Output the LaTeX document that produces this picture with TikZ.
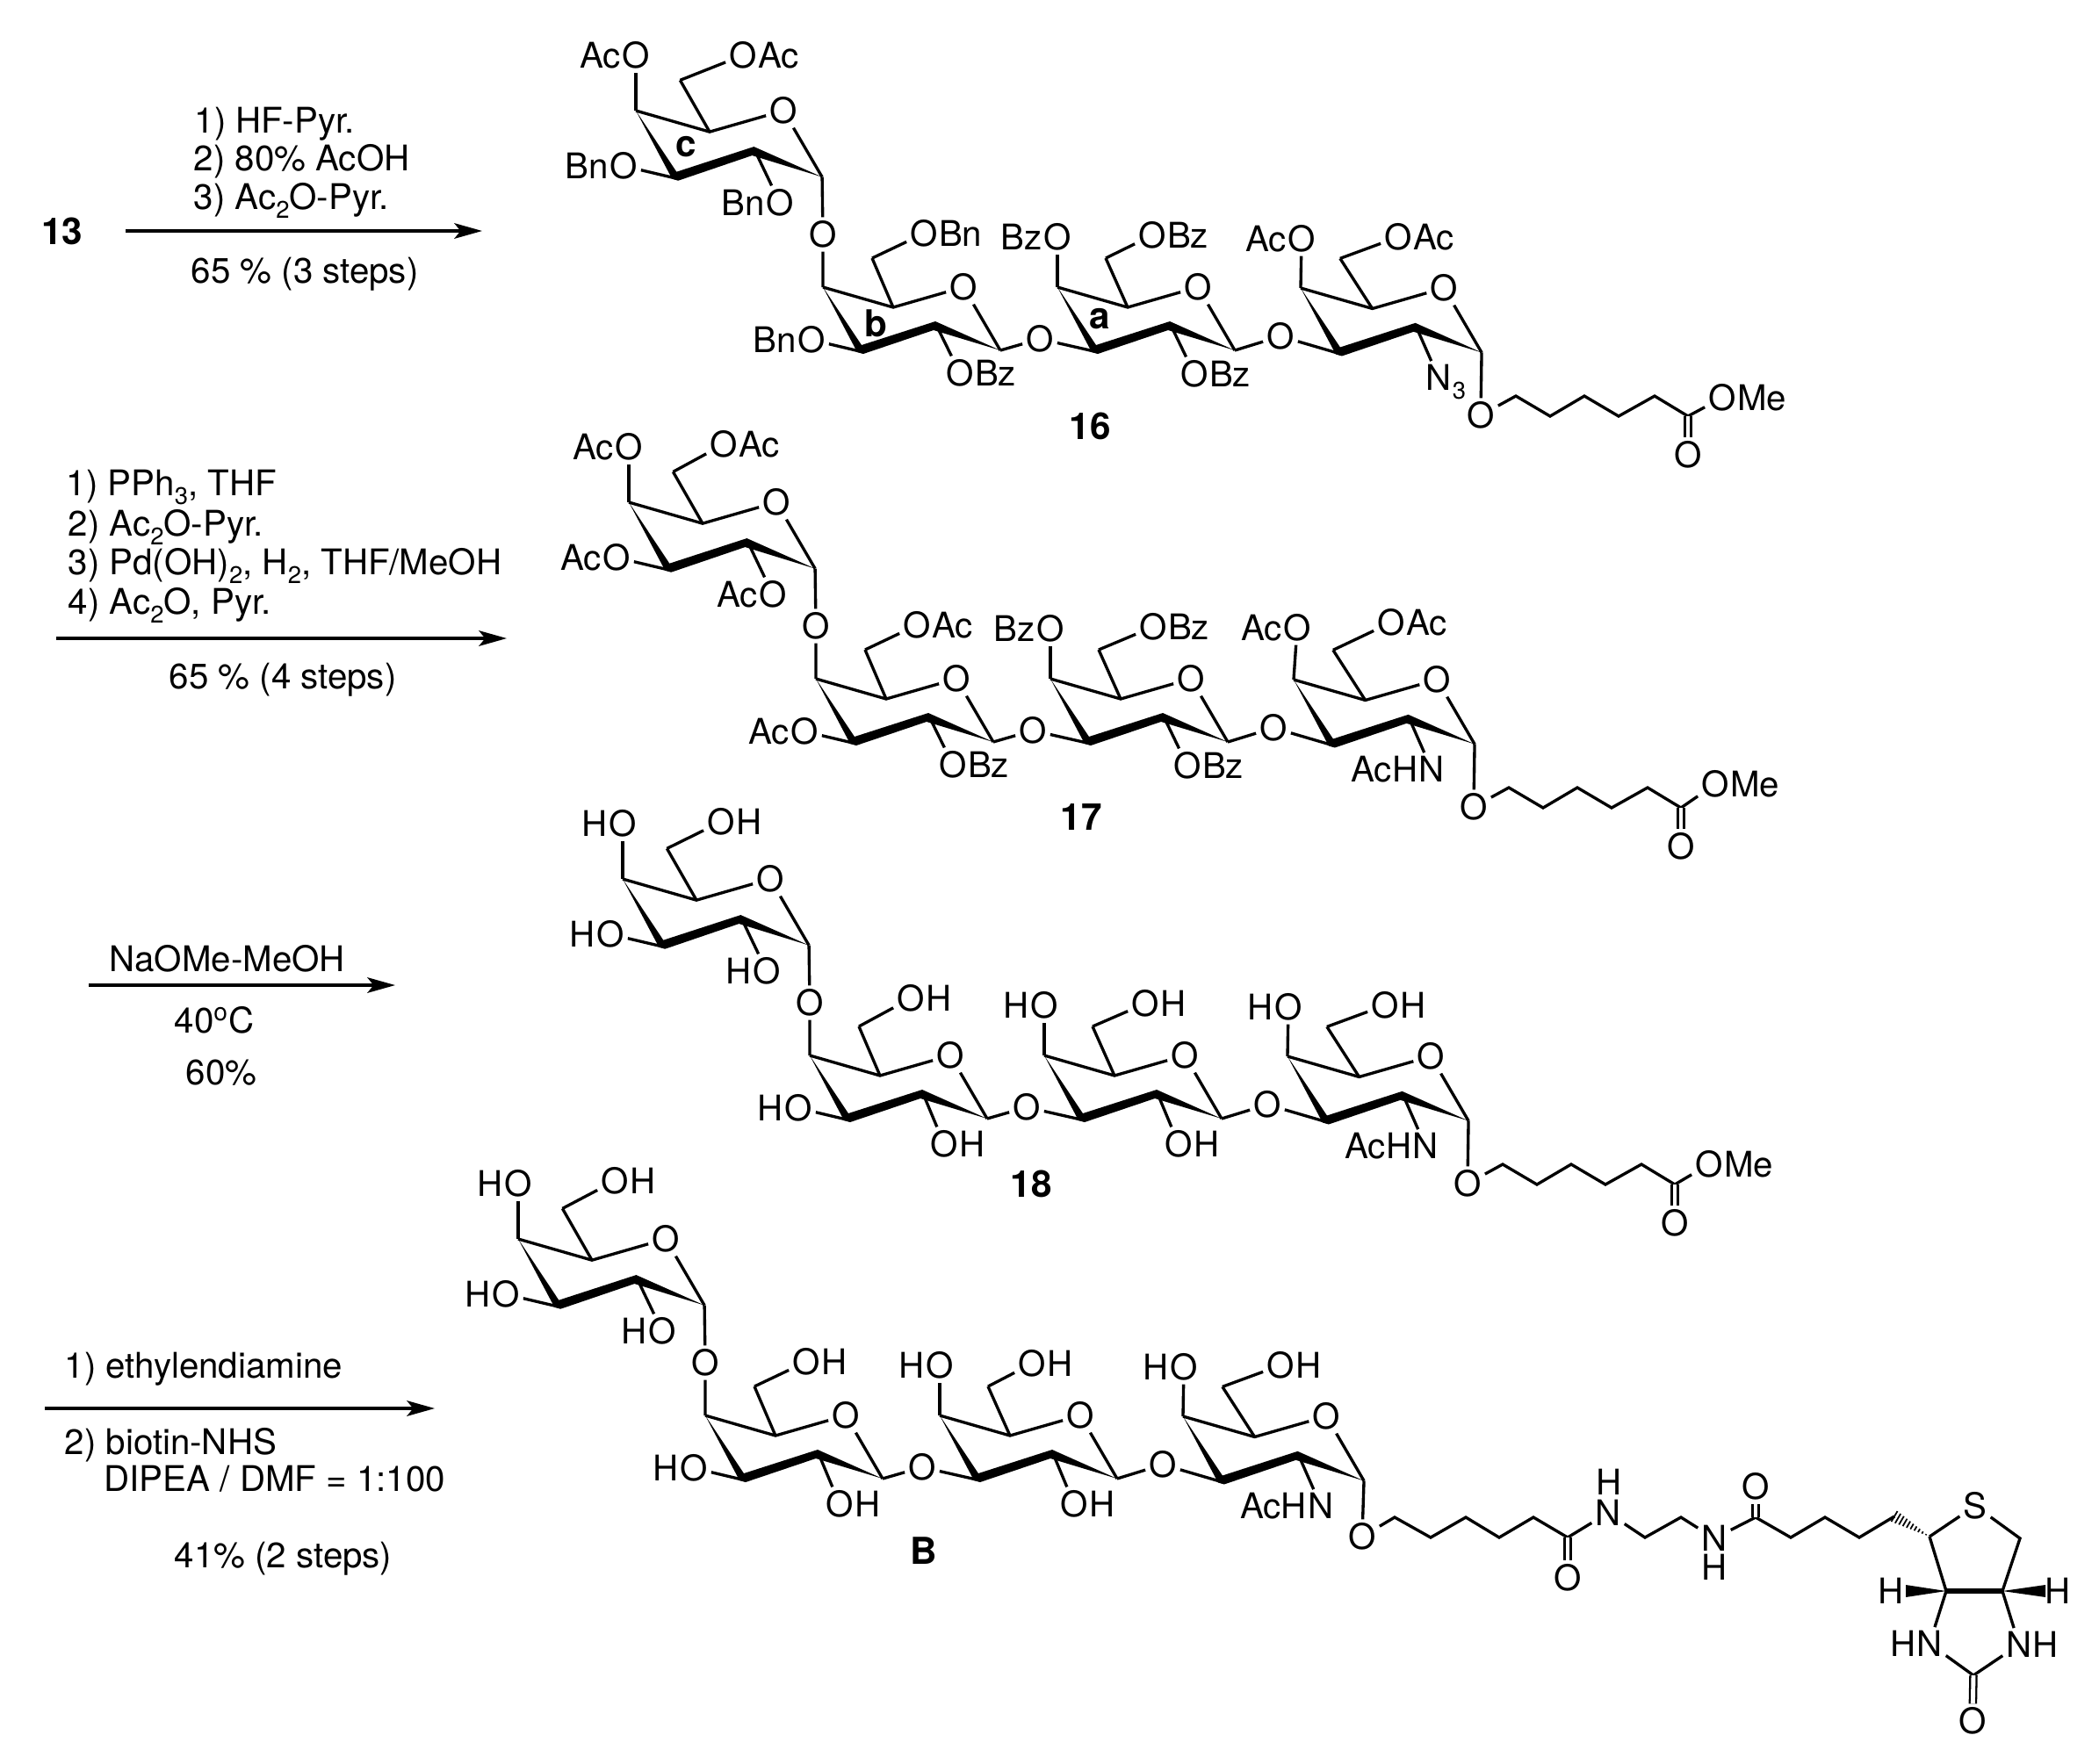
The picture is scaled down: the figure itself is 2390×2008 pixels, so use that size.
\documentclass[tikz,border=0pt]{standalone}
\usepackage{fontspec}
\setmainfont{TeX Gyre Heros}
\usetikzlibrary{arrows.meta,calc,positioning}
\tikzset{
  bond/.style={line width=0.95pt},
  dbl/.style={double,double distance=1.4pt,line width=0.65pt},
  rxn/.style={line width=0.95pt,-{Stealth[length=9pt,width=5pt,inset=2pt]}},
  atom/.style={inner sep=1pt},
  atompre/.style={inner sep=0pt,anchor=base east},
  atompost/.style={inner sep=0pt,anchor=base west},
  txt/.style={inner sep=0pt,anchor=base west},
  cmpd/.style={inner sep=0pt,font=\fontsize{12}{14}\selectfont\bfseries}
}
\newcommand{\lowidx}[1]{\raisebox{-0.25em}{\fontsize{7.8}{8}\selectfont #1}}
% one ring: name, position of C4, scale, x of C6
\newcommand{\sugar}[4]{
  \begin{scope}[shift={(#2)},scale=#3]
    \coordinate (#14) at (0,0);
    \coordinate (#15) at (80,23);
    \node[atom] (#1O) at (160,0) {O};
    \coordinate (#11) at (202,72);
    \coordinate (#12) at (128,41);
    \coordinate (#13) at (46,74);
    \coordinate (#16) at (#4,-33);
  \end{scope}
  \fill (#14) -- ([shift={(-7,0)}]#13) -- ([shift={(0,2)}]#13) -- ([shift={(-2,8)}]#12) -- (#11)
    -- ([shift={(0,-2)}]#12) -- ([shift={(-2,-8)}]#13) -- cycle;
  \draw[bond] (#14) -- (#15) -- (#1O) -- (#11);
  \draw[bond] (#15) -- (#16);
}
\newcommand{\preatom}[3]{
  \node[atom] (#1) at (p#1) {#3};
  \node[atompre] (#1t) at ([xshift=1pt]#1.base west) {#2};
}
\newcommand{\postatom}[3]{
  \node[atom] (#1) at (p#1) {#2};
  \node[atompost] (#1t) at ([xshift=-1pt]#1.base east) {#3};
}
\newcommand{\plainatom}[2]{\node[atom] (#1) at (p#1) {#2};}
% the four rings and where their substituents sit
\newcommand{\tetrarings}{
  \sugar{c}{724,126}{1.05}{48}
  \sugar{b}{937,327}{1}{56}
  \sugar{a}{1204,327}{1}{55}
  \sugar{d}{1481,328}{1.02}{44}
  \coordinate (poc4) at (724,63);
  \coordinate (poc6) at (846,63);
  \coordinate (poc3) at (710,189);
  \coordinate (poc2) at (888,231);
  \coordinate (pocb) at (937,267);
  \coordinate (pob6) at (1052,266);
  \coordinate (pob3) at (924,387);
  \coordinate (pob2) at (1093,425);
  \coordinate (poba) at (1184,386);
  \coordinate (poa4) at (1204,270);
  \coordinate (poa6) at (1312,268);
  \coordinate (poa2) at (1360,426);
  \coordinate (poad) at (1458,383);
  \coordinate (pod4) at (1482,272);
  \coordinate (pod6) at (1592,270);
  \coordinate (pnd2) at (1638,430);
  \coordinate (pod1) at (1686,473);
  \plainatom{ocb}{O}
  \plainatom{oba}{O}
  \plainatom{oad}{O}
}
\newcommand{\tetrabonds}{
  \draw[bond] (c4) -- (oc4);
  \draw[bond] (c6) -- (oc6);
  \draw[bond] (c3) -- (oc3);
  \draw[bond] (c2) -- (oc2);
  \draw[bond] (c1) -- (ocb) -- (b4);
  \draw[bond] (b6) -- (ob6);
  \draw[bond] (b3) -- (ob3);
  \draw[bond] (b2) -- (ob2);
  \draw[bond] (b1) -- (oba) -- (a3);
  \draw[bond] (a4) -- (oa4);
  \draw[bond] (a6) -- (oa6);
  \draw[bond] (a2) -- (oa2);
  \draw[bond] (a1) -- (oad) -- (d3);
  \draw[bond] (d4) -- (od4);
  \draw[bond] (d6) -- (od6);
  \draw[bond] (d2) -- (nd2);
  \draw[bond] (d1) -- (od1);
}
% methyl ester tail, #1 = height of its O
\newcommand{\estertail}[1]{
  \coordinate (k1) at (1726,451);
  \coordinate (k2) at (1765,474);
  \coordinate (k3) at (1804,451);
  \coordinate (k4) at (1843,474);
  \coordinate (k5) at (1884,451);
  \coordinate (k6) at (1922,474);
  \coordinate (pome) at (1961,#1);
  \coordinate (poko) at (1922,518);
  \postatom{ome}{O}{Me}
  \plainatom{oko}{O}
  \draw[bond] (od1) -- (k1) -- (k2) -- (k3) -- (k4) -- (k5) -- (k6) -- (ome);
  \draw[dbl] (k6) -- (oko);
}
\newcommand{\hydroxyls}{
  \coordinate (pob2) at (1090,428);
  \coordinate (poa2) at (1357,428);
  \preatom{oc4}{H}{O}
  \postatom{oc6}{O}{H}
  \preatom{oc3}{H}{O}
  \preatom{oc2}{H}{O}
  \postatom{ob6}{O}{H}
  \preatom{ob3}{H}{O}
  \postatom{ob2}{O}{H}
  \preatom{oa4}{H}{O}
  \postatom{oa6}{O}{H}
  \postatom{oa2}{O}{H}
  \preatom{od4}{H}{O}
  \postatom{od6}{O}{H}
  \preatom{nd2}{AcH}{N}
  \plainatom{od1}{O}
}
\begin{document}
\begin{tikzpicture}[x=0.01cm,y=-0.01cm,font=\fontsize{11.45}{14}\selectfont]
  \useasboundingbox (0,0) rectangle (2390,2008);

  % compound 16
  \begin{scope}
    \tetrarings
    \preatom{oc4}{Ac}{O}
    \postatom{oc6}{O}{Ac}
    \preatom{oc3}{Bn}{O}
    \preatom{oc2}{Bn}{O}
    \postatom{ob6}{O}{Bn}
    \preatom{ob3}{Bn}{O}
    \postatom{ob2}{O}{Bz}
    \preatom{oa4}{Bz}{O}
    \postatom{oa6}{O}{Bz}
    \postatom{oa2}{O}{Bz}
    \preatom{od4}{Ac}{O}
    \postatom{od6}{O}{Ac}
    \postatom{nd2}{N}{\lowidx{3}}
    \plainatom{od1}{O}
    \tetrabonds
    \estertail{453}
    \node[cmpd] (ringc) at (781,167) {c};
    \node[cmpd] (ringb) at (997,368) {b};
    \node[cmpd] (ringa) at (1252,363) {a};
    \node[cmpd] (lab16) at (1241,485) {16};
  \end{scope}

  % compound 17
  \begin{scope}[shift={(-8,446)}]
    \tetrarings
    \coordinate (poc6) at (832,60);
    \coordinate (poa6) at (1321,268);
    \coordinate (pod4) at (1485,269);
    \coordinate (pod6) at (1592,263);
    \preatom{oc4}{Ac}{O}
    \postatom{oc6}{O}{Ac}
    \preatom{oc3}{Ac}{O}
    \preatom{oc2}{Ac}{O}
    \postatom{ob6}{O}{Ac}
    \preatom{ob3}{Ac}{O}
    \postatom{ob2}{O}{Bz}
    \preatom{oa4}{Bz}{O}
    \postatom{oa6}{O}{Bz}
    \postatom{oa2}{O}{Bz}
    \preatom{od4}{Ac}{O}
    \postatom{od6}{O}{Ac}
    \preatom{nd2}{AcH}{N}
    \plainatom{od1}{O}
    \tetrabonds
    \estertail{447}
    \node[cmpd] (lab17) at (1239,485) {17};
  \end{scope}

  % compound 18
  \begin{scope}[shift={(-15,875)}]
    \tetrarings
    \coordinate (poc6) at (836,61);
    \coordinate (pob6) at (1052,262);
    \coordinate (poa6) at (1319,268);
    \hydroxyls
    \tetrabonds
    \estertail{451}
    \node[cmpd] (lab18) at (1189,473) {18};
  \end{scope}

  % compound B
  \begin{scope}[shift={(-134,1285)}]
    \tetrarings
    \coordinate (poc6) at (834,60);
    \coordinate (poa6) at (1309,268);
    \coordinate (pod1) at (1685,465);
    \hydroxyls
    \tetrabonds
    \node[cmpd] (labB) at (1186,481) {B};
  \end{scope}

  % linker and biotin of B
  \coordinate (m1) at (1588,1728);
  \coordinate (m2) at (1629,1751);
  \coordinate (m3) at (1669,1728);
  \coordinate (m4) at (1707,1751);
  \coordinate (m5) at (1746,1728);
  \coordinate (m6) at (1785,1751);
  \coordinate (m7) at (1873,1751);
  \coordinate (m8) at (1914,1728);
  \coordinate (m9) at (1999,1728);
  \coordinate (m10) at (2039,1751);
  \coordinate (m11) at (2078,1728);
  \coordinate (m12) at (2117,1751);
  \coordinate (m13) at (2157,1727);
  \coordinate (m14) at (2197,1750);
  \coordinate (m15) at (2300,1752);
  \coordinate (m16) at (2280,1812);
  \coordinate (m17) at (2216,1812);
  \coordinate (m18) at (2247,1908);
  \node[atom] (o6) at (1785,1797) {O};
  \node[atom] (na) at (1831,1723) {N};
  \node[atom] (hna) at (1832,1688) {H};
  \node[atom] (nb) at (1952,1752) {N};
  \node[atom] (hnb) at (1952,1785) {H};
  \node[atom] (o9) at (1999,1693) {O};
  \node[atom] (sr) at (2249,1715) {S};
  \node[atom] (hl) at (2153,1812) {H};
  \node[atom] (hr) at (2343,1812) {H};
  \node[atom] (nc) at (2197,1872) {N};
  \node[atompre] (hnc) at ([xshift=1pt]nc.base west) {H};
  \node[atom] (nd) at (2299,1873) {N};
  \node[atompost] (hnd) at ([xshift=-1pt]nd.base east) {H};
  \node[atom] (o18) at (2246,1960) {O};
  \draw[bond] (od1) -- (m1) -- (m2) -- (m3) -- (m4) -- (m5) -- (m6) -- (na) -- (m7) -- (m8) -- (nb) -- (m9) -- (m10) -- (m11) -- (m12) -- (m13);
  \draw[dbl] (m6) -- (o6);
  \draw[dbl] (m9) -- (o9);
  \foreach \t in {.1,.2,...,1.0} {
    \draw[line width=0.5pt] ($(m14)+\t*(-40,-23)+\t*(3.5,-6)$) -- ($(m14)+\t*(-40,-23)-\t*(3.5,-6)$);
  }
  \draw[bond] (m14) -- (sr) -- (m15) -- (m16) -- (nd) -- (m18) -- (nc) -- (m17) -- (m14);
  \draw[line width=1.5pt] (m17) -- (m16);
  \draw[dbl] (m18) -- (o18);
  \fill (m17) -- (2170,1805) -- (2170,1819) -- cycle;
  \fill (m16) -- (2329,1805) -- (2329,1819) -- cycle;

  % first step
  \node[cmpd] (c13) at (71,263) {13};
  \coordinate (r1s) at (143,263);
  \coordinate (r1e) at (549,263);
  \draw[rxn] (r1s) -- (r1e);
  \node[txt] (r1a) at (221,151) {1) HF-Pyr.};
  \node[txt] (r1b) at (220,194) {2) 80\% AcOH};
  \node[txt] (r1c) at (220,238) {3) Ac\lowidx{2}O-Pyr.};
  \node[txt] (r1y) at (217,322) {65 \% (3 steps)};

  % second step
  \coordinate (r2s) at (64,727);
  \coordinate (r2e) at (577,727);
  \draw[rxn] (r2s) -- (r2e);
  \node[txt] (r2a) at (75,564) {1) PPh\lowidx{3}, THF};
  \node[txt] (r2b) at (77,610) {2) Ac\lowidx{2}O-Pyr.};
  \node[txt] (r2c) at (77,654) {3) Pd(OH)\lowidx{2}, H\lowidx{2}, THF/MeOH};
  \node[txt] (r2d) at (77,699) {4) Ac\lowidx{2}O, Pyr.};
  \node[txt] (r2y) at (192,784) {65 \% (4 steps)};

  % third step
  \coordinate (r3s) at (101,1122);
  \coordinate (r3e) at (450,1122);
  \draw[rxn] (r3s) -- (r3e);
  \node[txt] (r3a) at (124,1106) {NaOMe-MeOH};
  \node[txt] (r3b) at (198,1176) {40\textsuperscript{o}C};
  \node[txt] (r3y) at (211,1235) {60\%};

  % fourth step
  \coordinate (r4s) at (51,1604);
  \coordinate (r4e) at (495,1604);
  \draw[rxn] (r4s) -- (r4e);
  \node[txt] (r4a) at (73,1569) {1) ethylendiamine};
  \node[txt] (r4b) at (73,1656) {2) biotin-NHS};
  \node[txt] (r4c) at (118,1698) {DIPEA / DMF = 1:100};
  \node[txt] (r4y) at (198,1785) {41\% (2 steps)};
\end{tikzpicture}
\end{document}
